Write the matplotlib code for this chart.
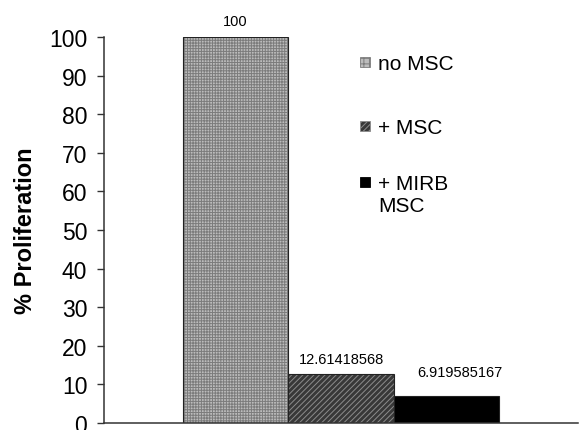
import matplotlib
matplotlib.use("Agg")
import matplotlib.pyplot as plt
from matplotlib.patches import Rectangle

categories = ["no MSC", "+ MSC", "+ MIRB\nMSC"]
values = [100, 12.61418568, 6.919585167]
value_labels = ["100", "12.61418568", "6.919585167"]
yticks = [0, 10, 20, 30, 40, 50, 60, 70, 80, 90, 100]

plt.rcParams['font.family'] = ['Liberation Sans', 'DejaVu Sans']
plt.rcParams['hatch.linewidth'] = 0.7

W, H = 580, 431
fig = plt.figure(figsize=(W / 100, H / 100), dpi=100)
ax = fig.add_axes([104/W, 7/H, (578-104)/W, (424-38)/H])

faces = ['#bcbcbc', '#383838', '#000000']
hatch_cols = ['#7c7c7c', '#8c8c8c', '#000000']
hatches = ['++++++', '//////', None]
xs = [-1, 0, 1]
for x, v, fc, hc, h in zip(xs, values, faces, hatch_cols, hatches):
    ax.bar(x, v, width=1.0, color=fc, edgecolor=hc, hatch=h, linewidth=0)
    ax.bar(x, v, width=1.0, fill=False, edgecolor='#222222', linewidth=0.8)

label_dx = [0, 0, 14]
label_dy = [16, 15, 24]
for x, v, lab, dx, dy in zip(xs, values, value_labels, label_dx, label_dy):
    ax.annotate(lab, (x, v), xytext=(dx * 0.72, dy * 0.72), textcoords='offset points',
                ha='center', va='center', fontsize=10.5)

ax.set_xlim(-2.25, 2.25)
ax.set_ylim(0, 100)
ax.set_yticks(yticks)
ax.set_xticks([])
ax.tick_params(axis='y', labelsize=16.5, length=5, width=1.0, direction='out', pad=7,
               color='#333333')
for s in ['top', 'right']:
    ax.spines[s].set_visible(False)
for s in ['left', 'bottom']:
    ax.spines[s].set_linewidth(1.1)
    ax.spines[s].set_color('#333333')
ax.set_ylabel('% Proliferation', fontsize=17, fontweight='bold', labelpad=9)

# legend drawn in figure pixels
leg_y = [63, 127, 183]
leg_hatches = ['+++', '//////', None]
for cat, fc, hc, h, yc in zip(categories, faces, hatch_cols, leg_hatches, leg_y):
    fig.patches.append(Rectangle((360/W, 1 - (yc + 5)/H), 10/W, 10/H,
                                 transform=fig.transFigure, facecolor=fc,
                                 edgecolor=hc, hatch=h, linewidth=0.6))
    fig.text(378/W, 1 - (yc - 7.5)/H, cat, fontsize=15, ha='left', va='top',
             linespacing=1.2)

fig.savefig('out.png', dpi=100)
